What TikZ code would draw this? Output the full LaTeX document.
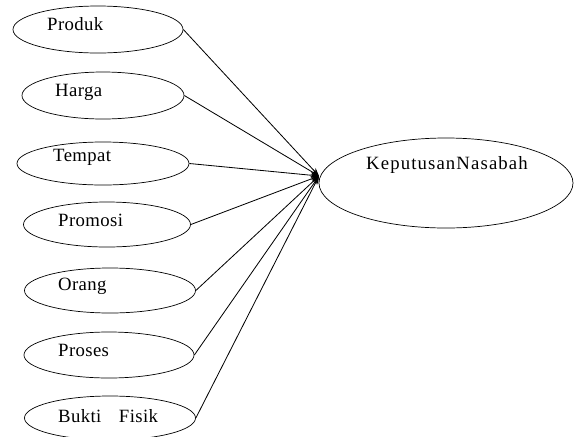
\documentclass[tikz,border=0pt]{standalone}
\usepackage{fontspec}
\newfontfamily\lblfont{Liberation Serif}[LetterSpace=2]
\newfontfamily\widefont{Liberation Serif}[LetterSpace=6]
\usetikzlibrary{arrows.meta, positioning, shapes.geometric}

\begin{document}
\begin{tikzpicture}[
    x=0.03cm, y=-0.03cm,
    every node/.style={font=\lblfont\fontsize{16}{19}\selectfont},
    var/.style={ellipse, draw, line width=0.6pt, inner sep=0pt},
    lbl/.style={anchor=west, inner sep=0pt},
    a/.style={-{Stealth[length=7pt, width=5pt]}, line width=0.7pt}
]
\useasboundingbox (0,0) rectangle (574,436);
% variabel bebas
\node[var, minimum width=5.1cm,  minimum height=1.41cm] (produk)  at (98,29.5)  {};
\node[var, minimum width=4.86cm, minimum height=1.41cm] (harga)   at (103,95.5) {};
\node[var, minimum width=5.16cm, minimum height=1.29cm] (tempat)  at (103,163.5) {};
\node[var, minimum width=5.01cm, minimum height=1.35cm] (promosi) at (107,224.5) {};
\node[var, minimum width=5.13cm, minimum height=1.35cm] (orang)   at (110,290.5) {};
\node[var, minimum width=5.1cm,  minimum height=1.38cm] (proses)  at (109,355)  {};
\node[var, minimum width=5.13cm, minimum height=1.32cm] (bukti)   at (110,418)  {};
\node[lbl] (tproduk)  at (47,24)  {Produk};
\node[lbl] (tharga)   at (55,92)  {Harga};
\node[lbl] (ttempat)  at (53,157) {Tempat};
\node[lbl] (tpromosi) at (58,220) {Promosi};
\node[lbl] (torang)   at (58,286) {Orang};
\node[lbl] (tproses)  at (58,350) {Proses};
\node[lbl] (tbukti)   at (58,416) {Bukti\hspace{15pt}Fisik};
% variabel terikat
\node[var, minimum width=7.62cm, minimum height=2.7cm] (keputusan) at (446,183) {};
\node[font=\widefont\fontsize{16}{19}\selectfont] (tkeputusan) at (447,165) {KeputusanNasabah};
\coordinate (tip) at (319,176);
\foreach \v in {produk, harga, tempat, promosi, orang, proses, bukti}
  \draw[a] (\v.east) -- (tip);
\end{tikzpicture}
\end{document}
